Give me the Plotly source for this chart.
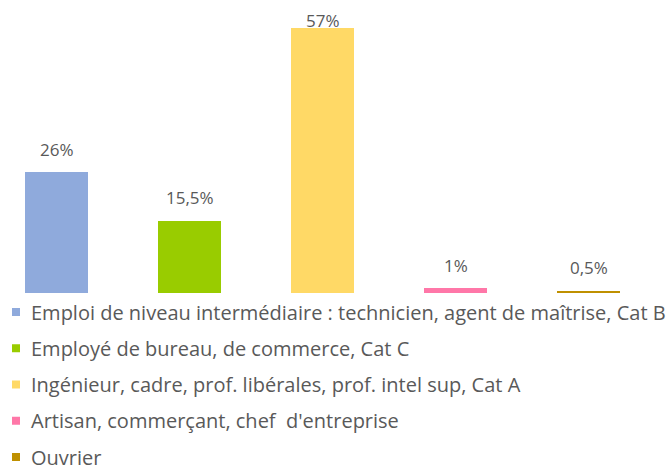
import plotly.graph_objects as go

categories = [
    "Emploi de niveau intermédiaire : technicien, agent de maîtrise, Cat B",
    "Employé de bureau, de commerce, Cat C",
    "Ingénieur, cadre, prof. libérales, prof. intel sup, Cat A",
    "Artisan, commerçant, chef  d'entreprise",
    "Ouvrier",
]
values = [26, 15.5, 57, 1, 0.5]
value_labels = ["26%", "15,5%", "57%", "1%", "0,5%"]
colors = ["#8FAADC", "#99CC00", "#FFD966", "#FF77A8", "#BF9000"]

FONT = "Open Sans, Liberation Sans, sans-serif"
TEXT_COLOR = "#595959"

W, H = 667, 466
BASELINE = 293             # pixel row of the bar baseline
Y_TOP = 63.0               # value at the top edge of the drawing area
px_per_unit = BASELINE / Y_TOP
SLOT = 133                 # pixels per category
FIRST_CENTER = 56.5        # pixel column of the first bar centre

# legend block (drawn below the bars)
LEG_FIRST_ROW = 312
LEG_ROW_STEP = 36.25
LEG_SWATCH_X = 12
LEG_SWATCH = 8
LEG_TEXT_X = 29


def px_x(p):
    return p / W


def px_y(p):
    return 1 - p / H


fig = go.Figure()
for i, (cat, v, c) in enumerate(zip(categories, values, colors)):
    fig.add_trace(go.Bar(
        x=[i], y=[v], name=cat, width=63 / SLOT,
        marker=dict(color=c, line=dict(width=0)),
        hoverinfo="skip", showlegend=False,
    ))

# value labels above the bars, kept inside the drawing area
label_gap = 23 / px_per_unit
label_max = (BASELINE - 20) / px_per_unit
for i, (v, t) in enumerate(zip(values, value_labels)):
    fig.add_annotation(
        x=i, y=min(v + label_gap, label_max), text=t, showarrow=False,
        xref="x", yref="y", yanchor="middle",
        font=dict(family=FONT, size=17, color=TEXT_COLOR),
    )

# legend: colour swatch + category name per row
for k, (cat, c) in enumerate(zip(categories, colors)):
    cy = LEG_FIRST_ROW + k * LEG_ROW_STEP
    fig.add_shape(
        type="rect", xref="paper", yref="paper",
        x0=px_x(LEG_SWATCH_X), x1=px_x(LEG_SWATCH_X + LEG_SWATCH),
        y0=px_y(cy + LEG_SWATCH / 2), y1=px_y(cy - LEG_SWATCH / 2),
        fillcolor=c, line=dict(width=0),
    )
    fig.add_annotation(
        x=px_x(LEG_TEXT_X), y=px_y(cy), xref="paper", yref="paper",
        xanchor="left", yanchor="middle", text=cat, showarrow=False,
        font=dict(family=FONT, size=20, color=TEXT_COLOR),
    )

fig.update_layout(
    width=W, height=H,
    margin=dict(l=0, r=0, t=0, b=0, pad=0),
    paper_bgcolor="white", plot_bgcolor="white",
    bargap=0, showlegend=False,
    xaxis=dict(range=[-FIRST_CENTER / SLOT, (W - FIRST_CENTER) / SLOT],
               visible=False, fixedrange=True),
    yaxis=dict(range=[0, Y_TOP], domain=[1 - BASELINE / H, 1],
               visible=False, fixedrange=True),
)

fig.write_html("out.html")
